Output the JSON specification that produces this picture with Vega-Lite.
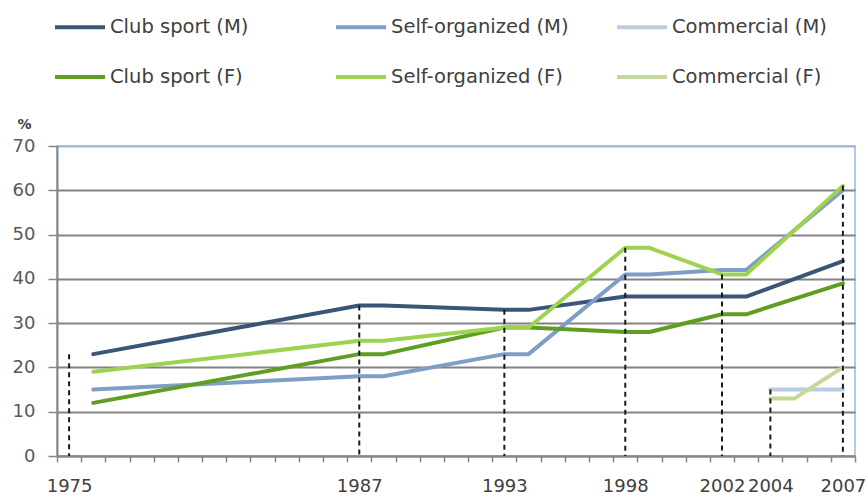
{
  "$schema": "https://vega.github.io/schema/vega-lite/v6.json",
  "width": 798,
  "height": 310,
  "autosize": {"type": "none"},
  "padding": {"left": 57, "top": 146, "right": 13, "bottom": 42},
  "background": "white",
  "config": {"view": {"stroke": "#9bb8da", "strokeWidth": 1.5}, "font": "DejaVu Sans"},
  "resolve": {"axis": {"x": "independent"}},
  "datasets": {
    "series": [
      {"series": "Club sport (M)", "year": 1976, "value": 23},
      {"series": "Club sport (M)", "year": 1987, "value": 34},
      {"series": "Club sport (M)", "year": 1988, "value": 34},
      {"series": "Club sport (M)", "year": 1993, "value": 33},
      {"series": "Club sport (M)", "year": 1994, "value": 33},
      {"series": "Club sport (M)", "year": 1998, "value": 36},
      {"series": "Club sport (M)", "year": 1999, "value": 36},
      {"series": "Club sport (M)", "year": 2002, "value": 36},
      {"series": "Club sport (M)", "year": 2003, "value": 36},
      {"series": "Club sport (M)", "year": 2007, "value": 44},
      {"series": "Self-organized (M)", "year": 1976, "value": 15},
      {"series": "Self-organized (M)", "year": 1987, "value": 18},
      {"series": "Self-organized (M)", "year": 1988, "value": 18},
      {"series": "Self-organized (M)", "year": 1993, "value": 23},
      {"series": "Self-organized (M)", "year": 1994, "value": 23},
      {"series": "Self-organized (M)", "year": 1998, "value": 41},
      {"series": "Self-organized (M)", "year": 1999, "value": 41},
      {"series": "Self-organized (M)", "year": 2002, "value": 42},
      {"series": "Self-organized (M)", "year": 2003, "value": 42},
      {"series": "Self-organized (M)", "year": 2007, "value": 60},
      {"series": "Commercial (M)", "year": 2004, "value": 15},
      {"series": "Commercial (M)", "year": 2005, "value": 15},
      {"series": "Commercial (M)", "year": 2007, "value": 15},
      {"series": "Club sport (F)", "year": 1976, "value": 12},
      {"series": "Club sport (F)", "year": 1987, "value": 23},
      {"series": "Club sport (F)", "year": 1988, "value": 23},
      {"series": "Club sport (F)", "year": 1993, "value": 29},
      {"series": "Club sport (F)", "year": 1994, "value": 29},
      {"series": "Club sport (F)", "year": 1998, "value": 28},
      {"series": "Club sport (F)", "year": 1999, "value": 28},
      {"series": "Club sport (F)", "year": 2002, "value": 32},
      {"series": "Club sport (F)", "year": 2003, "value": 32},
      {"series": "Club sport (F)", "year": 2007, "value": 39},
      {"series": "Self-organized (F)", "year": 1976, "value": 19},
      {"series": "Self-organized (F)", "year": 1987, "value": 26},
      {"series": "Self-organized (F)", "year": 1988, "value": 26},
      {"series": "Self-organized (F)", "year": 1993, "value": 29},
      {"series": "Self-organized (F)", "year": 1994, "value": 29},
      {"series": "Self-organized (F)", "year": 1998, "value": 47},
      {"series": "Self-organized (F)", "year": 1999, "value": 47},
      {"series": "Self-organized (F)", "year": 2002, "value": 41},
      {"series": "Self-organized (F)", "year": 2003, "value": 41},
      {"series": "Self-organized (F)", "year": 2007, "value": 61},
      {"series": "Commercial (F)", "year": 2004, "value": 13},
      {"series": "Commercial (F)", "year": 2005, "value": 13},
      {"series": "Commercial (F)", "year": 2007, "value": 20}
    ],
    "markers": [
      {"year": 1975, "top": 23},
      {"year": 1987, "top": 34},
      {"year": 1993, "top": 33},
      {"year": 1998, "top": 47},
      {"year": 2002, "top": 41},
      {"year": 2004, "top": 15},
      {"year": 2007, "top": 61}
    ]
  },
  "layer": [
    {
      "data": {"name": "series"},
      "mark": {"type": "line", "strokeWidth": 4, "strokeJoin": "round", "strokeCap": "round"},
      "encoding": {
        "x": {
          "field": "year", "type": "quantitative",
          "scale": {"domain": [1974.5, 2007.5], "nice": false, "zero": false},
          "axis": {
            "title": null, "orient": "bottom",
            "values": [1974.5,1975.5,1976.5,1977.5,1978.5,1979.5,1980.5,1981.5,1982.5,1983.5,1984.5,1985.5,1986.5,1987.5,1988.5,1989.5,1990.5,1991.5,1992.5,1993.5,1994.5,1995.5,1996.5,1997.5,1998.5,1999.5,2000.5,2001.5,2002.5,2003.5,2004.5,2005.5,2006.5,2007.5],
            "labels": false,
            "grid": false,
            "tickSize": 6, "tickColor": "#868686", "tickWidth": 1.5,
            "domainColor": "#868686", "domainWidth": 2
          }
        },
        "y": {
          "field": "value", "type": "quantitative",
          "scale": {"domain": [0, 70], "nice": false},
          "axis": {
            "values": [0, 10, 20, 30, 40, 50, 60, 70],
            "title": "%", "titleAngle": 0, "titleX": -33, "titleY": -22,
            "titleAlign": "center", "titleBaseline": "middle",
            "titleFontSize": 14, "titleFontWeight": "bold", "titleColor": "#404040",
            "labelFontSize": 18, "labelColor": "#595959", "labelPadding": 13,
            "tickSize": 9, "tickColor": "#868686", "tickWidth": 1.5,
            "domainColor": "#868686", "domainWidth": 2,
            "grid": true,
            "gridColor": {"condition": {"test": "datum.value == 70", "value": "#9bb8da"}, "value": "#828282"},
            "gridWidth": 2
          }
        },
        "color": {
          "field": "series", "type": "nominal",
          "scale": {
            "domain": ["Club sport (M)", "Club sport (F)", "Self-organized (M)", "Self-organized (F)", "Commercial (M)", "Commercial (F)"],
            "range": ["#3b5577", "#5e9e22", "#7e9ec6", "#9ed24f", "#b8cce4", "#c3d89a"]
          },
          "legend": {
            "title": null, "orient": "none", "legendX": -4, "legendY": -146,
            "columns": 3, "gridAlign": "all", "columnPadding": 40, "rowPadding": 13,
            "symbolType": "stroke", "symbolSize": 2500, "symbolStrokeWidth": 4,
            "labelFontSize": 19.5, "labelColor": "#404040", "labelOffset": 3, "labelLimit": 300
          }
        }
      }
    },
    {
      "data": {"name": "markers"},
      "mark": {"type": "rule", "strokeDash": [5, 4], "strokeWidth": 2, "color": "#1a1a1a"},
      "encoding": {
        "x": {
          "field": "year", "type": "quantitative",
          "axis": {
            "title": null, "orient": "bottom",
            "values": [1975, 1987, 1993, 1998, 2002, 2004, 2007],
            "format": "d",
            "labelOverlap": false, "labelBound": false, "labelFlush": false,
            "labelFontSize": 18, "labelColor": "#404040", "labelPadding": 21,
            "ticks": false, "tickSize": 6, "domain": false, "grid": false
          }
        },
        "y": {"field": "top", "type": "quantitative"},
        "y2": {"datum": 0}
      }
    }
  ]
}
